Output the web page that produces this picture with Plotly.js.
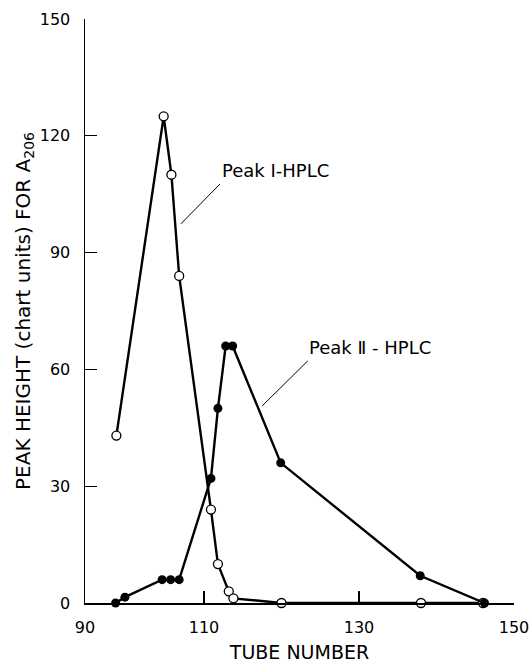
<!DOCTYPE html>
<html>
<head>
<meta charset="utf-8">
<script src="https://cdn.plot.ly/plotly-3.0.1.min.js"></script>
<style>html,body{margin:0;padding:0;background:#fff;}#chart{width:530px;height:663px;}</style>
</head>
<body>
<div id="chart"></div>
<script>
// Peak I - HPLC (open circles)
const peak1Tube = [98.7, 104.8, 105.8, 106.8, 110.9, 111.8, 113.2, 113.8, 120, 138, 146];
const peak1Height = [43, 125, 110, 84, 24, 10, 3, 1.2, 0, 0, 0];
// Peak II - HPLC (filled circles)
const peak2Tube = [98.6, 99.8, 104.6, 105.7, 106.8, 110.9, 111.8, 112.8, 113.7, 119.9, 137.9, 146.2];
const peak2Height = [0, 1.5, 6, 6, 6, 32, 50, 66, 66, 36, 7, 0];
// axis ticks
const xTickVals = [94.65, 110, 130, 150];
const xTickText = ["90", "110", "130", "150"];
const yTickVals = [0, 30, 60, 90, 120, 150];

const font = "DejaVu Sans, sans-serif";

const traces = [
  {
    x: peak1Tube, y: peak1Height, type: "scatter", mode: "lines+markers",
    line: {color: "#000", width: 2.4},
    marker: {symbol: "circle", size: 9, color: "#fff", line: {color: "#000", width: 1.3}},
    cliponaxis: false, hoverinfo: "none"
  },
  {
    x: peak2Tube, y: peak2Height, type: "scatter", mode: "lines+markers",
    line: {color: "#000", width: 2.4},
    marker: {symbol: "circle", size: 9, color: "#000", line: {color: "#000", width: 0}},
    cliponaxis: false, hoverinfo: "none"
  }
];

const layout = {
  width: 530, height: 663,
  margin: {l: 85, r: 16, t: 19, b: 60},
  paper_bgcolor: "#fff", plot_bgcolor: "#fff",
  showlegend: false,
  font: {family: font, color: "#000"},
  xaxis: {
    range: [94.65, 150], tickvals: xTickVals, ticktext: xTickText,
    ticks: "inside", ticklen: 12, tickwidth: 1.2, tickcolor: "#000",
    showline: true, linecolor: "#000", linewidth: 1.5,
    showgrid: false, zeroline: false,
    tickfont: {family: font, size: 16, color: "#000"},
    ticklabelstandoff: 9,
    title: {text: "TUBE NUMBER", font: {family: font, size: 19, color: "#000"}, standoff: 10}
  },
  yaxis: {
    range: [0, 150], tickvals: yTickVals,
    ticks: "inside", ticklen: 12, tickwidth: 1.2, tickcolor: "#000",
    showline: true, linecolor: "#000", linewidth: 1.5,
    showgrid: false, zeroline: false,
    tickfont: {family: font, size: 16, color: "#000"},
    ticklabelstandoff: 10,
    title: {text: "PEAK HEIGHT (chart units) FOR A<sub>206</sub>", font: {family: font, size: 20, color: "#000"}, standoff: 4}
  },
  shapes: [
    {type: "line", xref: "x", yref: "y", x0: 112.06, y0: 107.6, x1: 107.03, y1: 97.4, line: {color: "#000", width: 1}},
    {type: "line", xref: "x", yref: "y", x0: 123.4, y0: 62.2, x1: 117.5, y1: 50.6, line: {color: "#000", width: 1}}
  ],
  annotations: [
    {x: 112.06, y: 111, xref: "x", yref: "y", xanchor: "left", yanchor: "middle", showarrow: false,
     text: "Peak Ⅰ-HPLC", font: {family: font, size: 18, color: "#000"}},
    {x: 123.3, y: 65.5, xref: "x", yref: "y", xanchor: "left", yanchor: "middle", showarrow: false,
     text: "Peak Ⅱ - HPLC", font: {family: font, size: 18, color: "#000"}}
  ]
};

Plotly.newPlot("chart", traces, layout, {displayModeBar: false, staticPlot: true});
</script>
</body>
</html>
